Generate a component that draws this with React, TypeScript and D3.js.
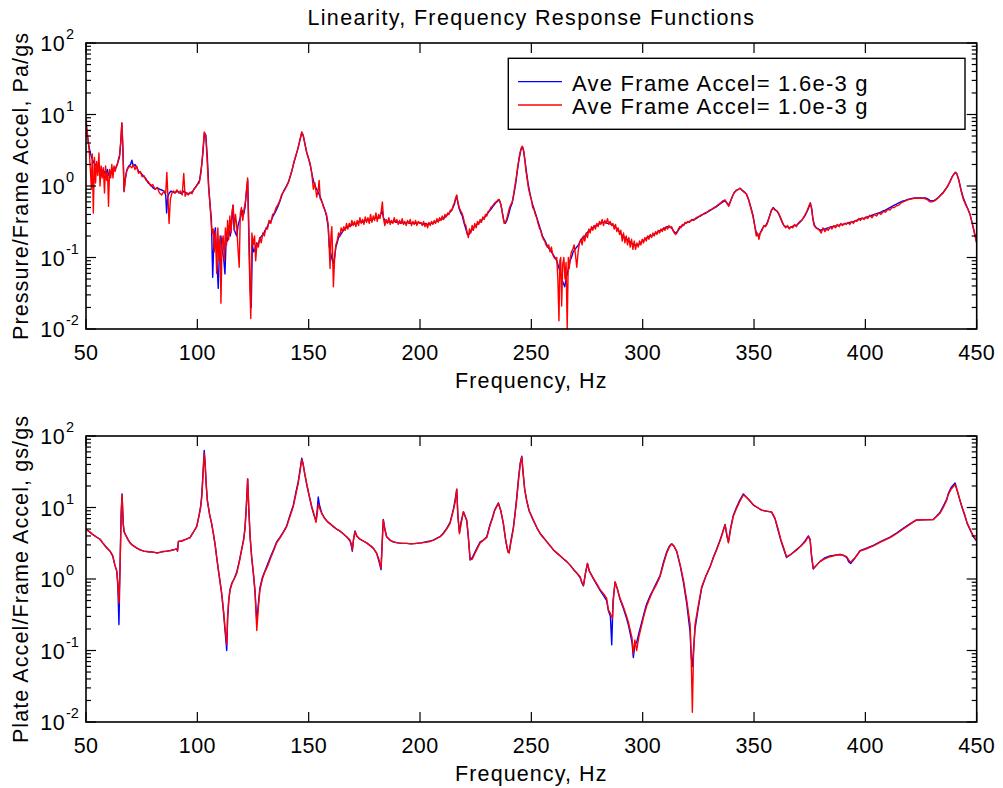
import React from 'react';
import * as d3 from 'd3';

type Pt = [number, number];

const titleText = 'Linearity, Frequency Response Functions';
const xLabelText = 'Frequency, Hz';
const topYLabel = 'Pressure/Frame Accel, Pa/gs';
const bottomYLabel = 'Plate Accel/Frame Accel, gs/gs';
const legendLabels = ['Ave Frame Accel= 1.6e-3 g', 'Ave Frame Accel= 1.0e-3 g'];
const seriesColors = ['#0000ff', '#ff0000'];
const xTicks = [50, 100, 150, 200, 250, 300, 350, 400, 450];
const yExponents = [-2, -1, 0, 1, 2];

const topBlue: Pt[] = [[50,6.7],[50.6,5.0],[51.2,3.8],[51.8,3.0],[52.4,2.6],[53,2.3],[53.6,2.1],[54.2,2.0],[54.8,1.8],[55.4,1.6],[56,1.9],[56.6,1.5],[57.2,1.7],[57.8,1.4],[58.4,1.6],[59,1.5],[59.6,1.7],[60.2,1.4],[60.8,1.6],[61.4,1.5],[62,1.7],[62.6,1.8],[63.2,1.75],[63.8,1.9],[64.4,2.2],[65,2.5],[65.6,4.0],[66.1,7.5],[66.6,3.2],[67.1,0.85],[67.7,1.3],[68.4,1.7],[69.2,1.9],[70,2.0],[70.6,2.3],[71.2,1.9],[72,2.0],[72.8,1.8],[73.6,1.6],[74.4,1.55],[75.2,1.45],[76,1.35],[77,1.25],[78,1.1],[79,1.05],[80,0.95],[81,0.9],[82,0.95],[83,0.9],[84,0.88],[85,0.85],[85.8,0.75],[86.2,0.42],[86.7,0.7],[87.4,0.8],[88.2,0.85],[89,0.82],[90,0.8],[91,0.85],[92,0.8],[93,0.78],[94,0.85],[95,0.8],[96,0.78],[97,0.8],[98,0.85],[99,0.95],[100,1.05],[101,1.2],[102,2.0],[102.6,3.2],[103.2,5.5],[103.8,5.2],[104.5,2.5],[105.1,1.0],[105.7,0.55],[106.3,0.35],[106.9,0.053],[107.5,0.2],[108.1,0.26],[108.7,0.1],[109.4,0.037],[110,0.15],[110.6,0.2],[111.2,0.12],[111.8,0.1],[112.4,0.059],[113,0.2],[113.6,0.17],[114.2,0.24],[114.8,0.2],[115.4,0.3],[116,0.54],[116.5,0.25],[117.1,0.22],[117.7,0.2],[118.3,0.28],[118.9,0.33],[119.5,0.38],[120.2,0.45],[120.8,0.4],[121.4,0.5],[122,0.8],[122.6,1.2],[123.2,0.2],[123.7,0.04],[124.2,0.02],[124.7,0.15],[125.3,0.12],[125.9,0.13],[126.6,0.16],[127.3,0.15],[128,0.18],[128.8,0.2],[129.6,0.21],[130.4,0.24],[131.2,0.26],[132,0.3],[133,0.32],[134,0.38],[135,0.43],[136,0.5],[137,0.6],[138,0.75],[139,0.88],[140,1.0],[141,1.15],[142,1.45],[143,1.9],[144,2.5],[145,3.2],[146,4.3],[146.9,5.6],[147.6,5.0],[148.4,3.8],[149.2,2.9],[150,2.4],[150.8,1.9],[151.6,1.4],[152.4,1.1],[153.2,0.95],[154,0.85],[154.8,0.75],[155.6,0.65],[156.4,0.55],[157.2,0.47],[158,0.38],[158.8,0.26],[159.3,0.14],[159.8,0.12],[160.3,0.1],[161,0.083],[161.6,0.1],[162.2,0.14],[162.8,0.16],[163.4,0.19],[164,0.2],[164.8,0.22],[165.6,0.24],[166.4,0.25],[167.2,0.27],[168,0.27],[169,0.28],[170,0.3],[171,0.29],[172,0.31],[173,0.32],[174,0.31],[175,0.33],[176,0.33],[177,0.34],[178,0.33],[179,0.35],[180,0.36],[181,0.35],[182,0.38],[183,0.45],[183.6,0.36],[184.4,0.32],[185.4,0.31],[186.4,0.32],[187.4,0.31],[188.4,0.32],[189.4,0.31],[190.4,0.31],[191.4,0.3],[192.4,0.31],[193.4,0.3],[194.4,0.31],[195.4,0.3],[196.4,0.3],[197.4,0.3],[198.4,0.3],[199.4,0.31],[200.4,0.3],[201.4,0.29],[202.4,0.3],[203.4,0.29],[204.4,0.3],[205.4,0.3],[206.4,0.31],[207.4,0.32],[208.4,0.33],[209.4,0.34],[210.4,0.35],[211.4,0.37],[212.4,0.4],[213.4,0.43],[214.4,0.47],[215.4,0.55],[216,0.65],[216.5,0.72],[217,0.58],[217.6,0.48],[218.3,0.42],[219,0.38],[219.8,0.3],[220.6,0.25],[221.3,0.21],[222,0.21],[222.8,0.23],[223.6,0.25],[224.4,0.27],[225.2,0.28],[226,0.3],[226.8,0.31],[227.6,0.33],[228.4,0.35],[229.2,0.37],[230,0.4],[231,0.44],[232,0.48],[233,0.53],[234,0.58],[235,0.62],[235.6,0.64],[236.3,0.55],[237,0.42],[237.7,0.32],[238.3,0.3],[239,0.33],[239.8,0.4],[240.6,0.5],[241.4,0.58],[242.2,0.78],[243,1.1],[243.8,1.7],[244.6,2.5],[245.4,3.3],[246,3.5],[246.6,3.0],[247.2,2.2],[247.9,1.5],[248.6,1.05],[249.4,0.78],[250.2,0.6],[251,0.5],[251.8,0.42],[252.6,0.35],[253.4,0.29],[254.2,0.24],[255,0.2],[255.8,0.18],[256.6,0.16],[257.4,0.14],[258.2,0.13],[259,0.12],[259.8,0.11],[260.6,0.1],[261.4,0.09],[262.2,0.075],[263,0.06],[263.6,0.05],[264.2,0.045],[265,0.039],[265.6,0.05],[266.2,0.06],[266.8,0.075],[267.4,0.09],[268,0.1],[268.8,0.12],[269.6,0.13],[270.4,0.14],[271.2,0.15],[272,0.17],[273,0.19],[274,0.2],[275,0.22],[276,0.24],[277,0.25],[278,0.27],[279,0.28],[280,0.29],[281,0.3],[282,0.31],[283,0.31],[284,0.3],[285,0.3],[286,0.29],[287,0.28],[288,0.26],[289,0.24],[290,0.22],[291,0.2],[292,0.19],[293,0.18],[294,0.17],[295,0.16],[296,0.15],[297,0.15],[298,0.15],[299,0.16],[300,0.17],[301,0.18],[302,0.19],[303,0.2],[304,0.2],[305,0.21],[306,0.22],[307,0.23],[308,0.24],[309,0.25],[310,0.26],[311,0.27],[312,0.27],[313,0.26],[314,0.23],[315,0.22],[316,0.24],[317,0.27],[318,0.28],[319,0.3],[320,0.31],[321,0.32],[322,0.33],[323,0.34],[324,0.35],[325,0.37],[326,0.38],[327,0.4],[328,0.41],[329,0.43],[330,0.45],[331,0.47],[332,0.49],[333,0.51],[334,0.54],[335,0.57],[336,0.6],[337,0.62],[338,0.57],[338.7,0.54],[339.5,0.62],[340.3,0.72],[341.2,0.82],[342,0.87],[343,0.9],[343.7,0.93],[344.6,0.88],[345.6,0.83],[346.6,0.77],[347.6,0.64],[348.6,0.5],[349.6,0.38],[350.4,0.27],[351.2,0.21],[352,0.2],[352.8,0.22],[353.6,0.25],[354.4,0.27],[355.2,0.28],[356,0.31],[357,0.38],[357.8,0.46],[358.6,0.5],[359.4,0.47],[360.2,0.45],[361,0.41],[361.8,0.36],[362.6,0.31],[363.4,0.28],[364.2,0.27],[365,0.27],[366,0.26],[367,0.27],[368,0.28],[369,0.28],[370,0.3],[371,0.32],[372,0.35],[373,0.39],[374,0.45],[374.8,0.52],[375.3,0.58],[375.9,0.48],[376.5,0.34],[377.2,0.28],[378,0.26],[379,0.25],[380,0.24],[381,0.25],[382,0.25],[383,0.26],[384,0.26],[385,0.27],[386,0.27],[387,0.28],[388,0.28],[389,0.29],[390,0.29],[391,0.3],[392,0.3],[393,0.31],[394,0.31],[395,0.32],[396,0.33],[397,0.34],[398,0.35],[399,0.35],[400,0.36],[401,0.37],[402,0.38],[403,0.39],[404,0.4],[405,0.41],[406,0.42],[407,0.43],[408,0.45],[409,0.46],[410,0.48],[411,0.5],[412,0.52],[413,0.54],[414,0.56],[415,0.58],[416,0.6],[417,0.62],[418,0.63],[419,0.65],[420,0.66],[421,0.67],[422,0.68],[423,0.68],[424,0.68],[425,0.68],[426,0.68],[427,0.68],[428,0.66],[429,0.63],[430,0.62],[431,0.63],[432,0.66],[433,0.7],[434,0.76],[435,0.82],[436,0.9],[437,1.0],[438,1.15],[439,1.35],[440,1.5],[440.5,1.55],[441,1.5],[442,1.2],[443,0.88],[444,0.68],[445,0.57],[446,0.48],[447,0.4],[448,0.3],[449,0.22],[450,0.16]];

const topRed: Pt[] = [[50,8.9],[50.5,6.0],[51,4.2],[51.5,3.0],[52,1.6],[52.4,0.9],[52.8,2.8],[53.3,0.42],[53.8,2.5],[54.3,1.1],[54.8,2.2],[55.3,1.4],[55.8,2.9],[56.3,1.0],[56.8,1.9],[57.3,1.3],[57.8,1.8],[58.3,0.8],[58.8,1.9],[59.3,1.2],[59.7,1.5],[60.1,0.52],[60.6,1.7],[61.1,1.3],[61.6,2.0],[62.1,1.3],[62.6,1.9],[63.1,1.6],[63.6,1.9],[64.1,2.0],[64.6,2.4],[65.1,2.7],[65.6,4.2],[66.1,7.7],[66.6,3.0],[67.1,0.83],[67.6,1.2],[68.2,1.6],[69,1.8],[69.8,1.9],[70.6,1.8],[71.3,2.0],[72,1.7],[72.8,1.9],[73.6,1.5],[74.4,1.6],[75.2,1.35],[76,1.4],[77,1.2],[78,1.15],[79,1.0],[80,1.05],[81,0.9],[82,0.95],[83,0.8],[84,0.75],[85,0.85],[85.8,0.8],[86.3,1.55],[86.8,0.7],[87.3,0.3],[87.9,0.65],[88.6,0.8],[89.3,0.85],[90,0.8],[90.8,0.88],[91.6,0.8],[92.4,0.85],[93.2,0.75],[93.9,1.5],[94.5,0.72],[95.2,0.8],[96,0.75],[96.8,0.82],[97.6,0.78],[98.4,0.9],[99.2,0.95],[100,1.05],[100.8,1.1],[101.6,1.5],[102.4,2.8],[103.1,5.7],[103.8,5.0],[104.5,2.0],[105.1,0.9],[105.6,0.6],[106.1,0.35],[106.6,0.22],[107.1,0.25],[107.6,0.12],[108.1,0.23],[108.7,0.06],[109.2,0.26],[109.7,0.09],[110.2,0.2],[110.6,0.023],[111.1,0.16],[111.6,0.2],[112.1,0.09],[112.6,0.26],[113.1,0.15],[113.6,0.33],[114.1,0.18],[114.6,0.38],[115.1,0.22],[115.6,0.45],[116.1,0.54],[116.6,0.24],[117.1,0.4],[117.6,0.3],[118.2,0.14],[118.8,0.073],[119.3,0.42],[119.8,0.5],[120.4,0.33],[121,0.48],[121.6,0.6],[122.1,0.9],[122.6,1.3],[123.1,0.2],[123.5,0.05],[124,0.014],[124.5,0.22],[125.1,0.15],[125.7,0.2],[126.2,0.09],[126.8,0.16],[127.4,0.14],[128,0.19],[128.7,0.16],[129.4,0.22],[130.1,0.2],[130.8,0.26],[131.5,0.25],[132.2,0.33],[133,0.3],[133.8,0.4],[134.6,0.42],[135.4,0.5],[136.2,0.55],[137,0.62],[137.8,0.75],[138.6,0.82],[139.4,0.9],[140.2,1.0],[141,1.15],[141.8,1.4],[142.6,1.7],[143.4,2.2],[144.2,2.6],[145,3.2],[145.8,4.0],[146.5,5.0],[146.9,5.7],[147.5,5.2],[148.2,4.0],[149,3.0],[149.8,2.5],[150.6,2.1],[151.4,1.5],[152.1,0.9],[152.8,1.1],[153.6,0.7],[154.3,0.9],[154.7,1.2],[155.2,0.66],[156,0.6],[156.7,0.5],[157.3,0.46],[158,0.4],[158.7,0.3],[159.3,0.12],[159.6,0.07],[160,0.2],[160.4,0.27],[160.8,0.1],[161.1,0.039],[161.6,0.09],[162.2,0.15],[162.8,0.17],[163.4,0.22],[164,0.2],[164.6,0.26],[165.2,0.23],[165.8,0.27],[166.4,0.24],[167,0.3],[167.6,0.25],[168.2,0.3],[168.8,0.27],[169.4,0.33],[170,0.28],[170.6,0.32],[171.2,0.27],[171.8,0.33],[172.4,0.28],[173,0.36],[173.6,0.3],[174.2,0.34],[174.8,0.29],[175.4,0.37],[176,0.31],[176.6,0.36],[177.2,0.3],[177.8,0.4],[178.4,0.31],[179,0.38],[179.6,0.33],[180.2,0.42],[180.8,0.32],[181.4,0.4],[182,0.35],[182.6,0.45],[183.1,0.6],[183.6,0.35],[184.2,0.28],[184.8,0.34],[185.4,0.3],[186,0.36],[186.6,0.29],[187.2,0.33],[187.8,0.3],[188.4,0.36],[189,0.31],[189.6,0.34],[190.2,0.29],[190.8,0.33],[191.4,0.3],[192,0.35],[192.6,0.29],[193.2,0.32],[193.8,0.28],[194.4,0.33],[195,0.3],[195.6,0.34],[196.2,0.28],[196.8,0.32],[197.4,0.29],[198,0.33],[198.6,0.28],[199.2,0.32],[199.8,0.3],[200.4,0.31],[201,0.28],[201.6,0.32],[202.2,0.27],[202.8,0.3],[203.4,0.26],[204,0.31],[204.6,0.28],[205.2,0.32],[205.8,0.29],[206.4,0.33],[207,0.3],[207.6,0.35],[208.2,0.31],[208.8,0.36],[209.4,0.33],[210,0.38],[210.6,0.34],[211.2,0.4],[211.8,0.37],[212.4,0.42],[213,0.4],[213.6,0.46],[214.2,0.45],[214.8,0.52],[215.4,0.58],[216,0.68],[216.5,0.75],[217,0.6],[217.6,0.5],[218.2,0.45],[218.8,0.42],[219.4,0.37],[220,0.3],[220.6,0.28],[221.2,0.22],[221.7,0.19],[222.2,0.25],[222.8,0.22],[223.4,0.28],[224,0.24],[224.6,0.3],[225.2,0.26],[225.8,0.32],[226.4,0.29],[227,0.34],[227.6,0.31],[228.2,0.37],[228.8,0.34],[229.4,0.4],[230,0.38],[230.6,0.44],[231.2,0.45],[231.8,0.5],[232.4,0.52],[233,0.55],[233.6,0.58],[234.2,0.6],[234.8,0.63],[235.4,0.65],[236,0.6],[236.6,0.5],[237.2,0.38],[237.8,0.3],[238.4,0.31],[239,0.35],[239.6,0.42],[240.2,0.5],[240.8,0.55],[241.4,0.6],[242,0.75],[242.6,1.0],[243.2,1.3],[243.8,1.8],[244.4,2.4],[245,3.0],[245.6,3.5],[246,3.6],[246.5,3.2],[247,2.4],[247.6,1.6],[248.2,1.2],[248.8,0.9],[249.4,0.75],[250,0.65],[250.6,0.5],[251.2,0.47],[251.8,0.4],[252.4,0.36],[253,0.3],[253.6,0.26],[254.2,0.24],[254.8,0.2],[255.4,0.18],[256,0.17],[256.6,0.15],[257.2,0.14],[257.8,0.15],[258.4,0.12],[259,0.14],[259.6,0.11],[260.2,0.1],[260.8,0.095],[261.4,0.1],[261.9,0.05],[262.4,0.013],[262.8,0.09],[263.2,0.1],[263.6,0.021],[264.1,0.08],[264.6,0.1],[265.1,0.05],[265.6,0.085],[266.1,0.01],[266.6,0.1],[267,0.07],[267.5,0.1],[268,0.12],[268.6,0.13],[269.2,0.15],[269.8,0.11],[270.4,0.073],[271,0.12],[271.6,0.16],[272.2,0.18],[272.8,0.15],[273.4,0.2],[274,0.17],[274.6,0.22],[275.2,0.19],[275.8,0.25],[276.4,0.22],[277,0.27],[277.6,0.24],[278.2,0.28],[278.8,0.25],[279.4,0.3],[280,0.27],[280.6,0.32],[281.2,0.29],[281.8,0.34],[282.4,0.28],[283,0.33],[283.6,0.3],[284.2,0.35],[284.8,0.29],[285.4,0.32],[286,0.28],[286.6,0.3],[287.2,0.25],[287.8,0.29],[288.4,0.23],[289,0.26],[289.6,0.21],[290.2,0.24],[290.8,0.17],[291.4,0.22],[292,0.16],[292.6,0.2],[293.2,0.15],[293.8,0.19],[294.4,0.14],[295,0.18],[295.6,0.13],[296.2,0.17],[296.8,0.13],[297.4,0.16],[298,0.14],[298.6,0.17],[299.2,0.15],[299.8,0.18],[300.4,0.16],[301,0.19],[301.6,0.17],[302.2,0.2],[302.8,0.18],[303.4,0.21],[304,0.19],[304.6,0.22],[305.2,0.2],[305.8,0.23],[306.4,0.21],[307,0.24],[307.6,0.22],[308.2,0.25],[308.8,0.23],[309.4,0.26],[310,0.24],[310.6,0.27],[311.2,0.25],[311.8,0.28],[312.4,0.26],[313,0.27],[313.6,0.24],[314.2,0.22],[314.8,0.21],[315.4,0.22],[316,0.25],[316.6,0.27],[317.2,0.26],[317.8,0.29],[318.4,0.28],[319,0.31],[319.6,0.3],[320.2,0.32],[321,0.31],[322,0.34],[323,0.33],[324,0.36],[325,0.37],[326,0.39],[327,0.4],[328,0.42],[329,0.43],[330,0.46],[331,0.47],[332,0.5],[333,0.52],[334,0.55],[335,0.58],[336,0.62],[337,0.64],[338,0.56],[338.6,0.52],[339.4,0.6],[340.2,0.7],[341,0.8],[342,0.86],[343,0.9],[343.7,0.93],[344.5,0.88],[345.5,0.82],[346.5,0.78],[347.5,0.65],[348.5,0.5],[349.5,0.38],[350.3,0.28],[351,0.2],[351.6,0.22],[352.2,0.18],[352.8,0.22],[353.6,0.24],[354.4,0.28],[355.2,0.27],[356,0.3],[357,0.38],[357.8,0.45],[358.6,0.49],[359.4,0.46],[360.2,0.45],[361,0.42],[361.8,0.37],[362.6,0.32],[363.4,0.28],[364.2,0.26],[365,0.28],[365.8,0.25],[366.6,0.27],[367.4,0.26],[368.2,0.29],[369,0.27],[369.8,0.3],[370.6,0.32],[371.4,0.33],[372.2,0.36],[373,0.4],[373.8,0.45],[374.6,0.52],[375.2,0.58],[375.8,0.5],[376.4,0.35],[377,0.28],[377.8,0.26],[378.6,0.25],[379.4,0.24],[380.2,0.22],[381,0.26],[381.8,0.23],[382.6,0.25],[383.4,0.24],[384.2,0.27],[385,0.25],[385.8,0.28],[386.6,0.26],[387.4,0.29],[388.2,0.27],[389,0.3],[389.8,0.28],[390.6,0.3],[391.4,0.29],[392.2,0.31],[393,0.29],[393.8,0.32],[394.6,0.3],[395.4,0.33],[396.2,0.32],[397,0.35],[397.8,0.33],[398.6,0.36],[399.4,0.34],[400.2,0.37],[401,0.35],[402,0.39],[403,0.36],[404,0.4],[405,0.38],[406,0.42],[407,0.4],[408,0.44],[409,0.43],[410,0.47],[411,0.46],[412,0.5],[413,0.5],[414,0.53],[415,0.54],[416,0.58],[417,0.6],[418,0.62],[419,0.64],[420,0.65],[421,0.66],[422,0.67],[423,0.68],[424,0.67],[425,0.68],[426,0.67],[427,0.66],[428,0.64],[429,0.6],[430,0.6],[431,0.62],[432,0.65],[433,0.7],[434,0.75],[435,0.8],[436,0.9],[437,1.0],[438,1.15],[439,1.35],[440,1.5],[440.5,1.55],[441,1.5],[442,1.2],[443,0.85],[444,0.65],[445,0.55],[446,0.48],[447,0.4],[448,0.3],[449,0.22],[450,0.16]];

const bottomBlue: Pt[] = [[50,4.95],[51.5,4.6],[53,4.2],[54.5,3.9],[56.3,3.6],[57.5,3.2],[59,2.8],[60.8,2.45],[62,2.1],[63,1.55],[63.8,1.3],[64.3,0.8],[64.8,0.23],[65.3,1.6],[65.8,8.5],[66.2,15.5],[66.7,6],[67.1,4.6],[68,4],[69,3.5],[69.8,3.2],[71,2.95],[72.5,2.75],[74.3,2.55],[76,2.45],[78,2.4],[80.2,2.38],[82,2.32],[84,2.4],[86.2,2.45],[88,2.5],[90,2.6],[90.7,2.65],[91.1,2.45],[91.5,3.35],[93,3.4],[95,3.6],[96.7,3.8],[98,4.4],[99.7,5.4],[100.7,7.5],[101.5,10.5],[102,15],[102.6,33],[103.1,63],[103.5,42],[104,21],[104.5,12.5],[105.5,8],[106.4,6],[107.2,4.3],[108,3.0],[108.7,2.0],[109.5,1.3],[110.2,0.92],[111,0.6],[111.8,0.33],[112.5,0.18],[113.2,0.1],[113.6,0.28],[114.1,0.5],[114.7,0.72],[115.5,0.88],[116.5,1.0],[117.7,1.25],[118.8,1.75],[119.9,2.6],[120.8,3.6],[121.4,5.2],[122,10.5],[122.6,25],[123.1,9.5],[123.7,3.8],[124.4,2.0],[125.2,1.15],[125.9,0.65],[126.7,0.25],[127.4,0.45],[128.1,0.75],[129.2,1.05],[130.4,1.3],[131.5,1.6],[133,2.1],[134.3,2.6],[135.6,3.3],[137,3.8],[138.5,4.5],[140.1,5.5],[141.6,7.8],[143.1,10.8],[144.2,16],[145.3,23],[146.2,35],[146.9,49],[147.5,41],[148.2,30],[149.1,21],[150.2,14.5],[151.4,10],[152.4,7.8],[153.3,6.5],[153.8,9],[154.3,14],[154.8,11],[155.8,8.5],[157,7.2],[158.5,6.3],[160,5.8],[161.1,5.4],[162.5,5.0],[164,4.7],[165.5,4.3],[167,3.9],[168.6,3.4],[169.3,2.8],[169.6,2.45],[170.1,3.5],[170.8,4.7],[171.6,4.0],[173,3.6],[174.5,3.4],[176,3.2],[177.5,2.95],[179,2.7],[180.5,2.3],[181.5,1.8],[182.5,1.35],[183,3.2],[183.5,6.8],[184.2,5],[185,3.9],[186.5,3.5],[188,3.3],[190,3.2],[192,3.15],[194,3.15],[196,3.1],[198.5,3.15],[200.5,3.2],[202.5,3.3],[204.5,3.4],[206,3.5],[207.5,3.7],[209,3.9],[210.5,4.4],[212,5.1],[213.5,6.2],[215,9.5],[215.8,13],[216.5,18],[217,7.5],[217.7,4.5],[218.5,6.5],[219.5,8.7],[220.3,7.5],[221,6.5],[221.7,3.8],[222.5,1.85],[223.5,2.0],[225,2.5],[227,3.3],[228.5,3.5],[230,3.9],[231.3,5.6],[232.5,7.2],[233.5,9.2],[235.2,11.6],[236.3,9],[237.4,6.0],[238.5,3.4],[239.5,2.4],[240,2.35],[240.8,3.4],[241.9,5.2],[242.7,8.5],[243.4,13.5],[244.3,27],[245,42],[245.7,52],[246.3,31],[247,18],[247.9,12.5],[249,9],[250.9,6.6],[252.5,5.2],[254,4.3],[255.4,3.8],[257,3.3],[258.5,2.9],[259.9,2.55],[261.5,2.3],[263,2.1],[264.5,1.9],[265.9,1.75],[267.5,1.55],[269,1.35],[270.5,1.2],[271.9,1.05],[272.7,0.88],[273.4,0.8],[274.3,1.2],[275.2,1.65],[276,1.3],[277.9,1.0],[279.5,0.82],[281,0.68],[282.5,0.58],[283.8,0.5],[284.6,0.36],[285.5,0.3],[286.1,0.12],[286.7,0.5],[287.6,0.9],[288.5,0.75],[289.8,0.52],[291.2,0.4],[292.8,0.28],[293.7,0.22],[294.6,0.16],[295.2,0.13],[295.8,0.08],[296.5,0.12],[297.3,0.13],[298.2,0.17],[299.6,0.25],[300.7,0.34],[301.8,0.45],[303.3,0.58],[304.8,0.72],[306.3,0.9],[307.8,1.12],[309.3,1.7],[310.8,2.4],[312,2.9],[313,3.1],[314,2.9],[315.3,2.4],[316.8,1.55],[318.3,0.9],[319.8,0.45],[321.3,0.18],[321.8,0.08],[322.3,0.06],[322.8,0.1],[323.5,0.2],[325,0.4],[326.5,0.75],[328.4,1.1],[330.3,1.5],[331.8,2.05],[333.2,2.6],[335,3.7],[337,5.8],[337.8,4.0],[338.5,3.3],[339.5,5.2],[340.7,7.8],[342,9.8],[343.5,12.5],[345.2,15.5],[346.5,14],[348,12.5],[349.7,10.8],[351.5,10],[353.4,9.2],[355.5,8.9],[357.9,8.6],[359.4,7.0],[360.8,4.8],[362,3.5],[363.2,2.7],[364.6,2.0],[366.5,2.2],[369.2,2.6],[371,2.9],[372.9,3.4],[374.4,4.0],[375.2,3.6],[375.8,2.1],[376.6,1.38],[378,1.55],[379.6,1.75],[381.5,1.95],[384.1,2.1],[386.5,2.15],[388.6,2.2],[390,2.15],[391.6,2.0],[392.5,1.75],[393.4,1.65],[394.3,1.78],[395.5,2.0],[397.6,2.5],[400.5,2.7],[403.6,2.95],[407,3.35],[411.1,3.85],[414,4.4],[417,5.1],[420,5.9],[423,6.7],[426,6.75],[430.5,6.8],[432,7.6],[433.5,8.5],[435,10.5],[436.5,13],[437.2,15.5],[438.5,19],[440.3,22],[441.3,17],[442.5,12.5],[443.5,9.8],[444.6,7.8],[445.7,6.0],[447,4.9],[448.5,3.9],[450,3.4]];

const bottomRed: Pt[] = [[50,4.95],[51.5,4.6],[53,4.2],[54.5,3.9],[56.3,3.6],[57.5,3.2],[59,2.8],[60.8,2.45],[62,2.1],[63,1.55],[63.8,1.3],[64.3,0.9],[64.8,0.46],[65.3,1.5],[65.8,8],[66.2,15],[66.7,6],[67.1,4.6],[68,4],[69,3.5],[69.8,3.2],[71,2.95],[72.5,2.75],[74.3,2.55],[76,2.45],[78,2.4],[80.2,2.38],[82,2.3],[84,2.4],[86.2,2.45],[88,2.5],[90,2.6],[90.7,2.65],[91.1,2.5],[91.5,3.35],[93,3.4],[95,3.6],[96.7,3.8],[98,4.4],[99.7,5.4],[100.7,7.5],[101.5,10],[102,14],[102.6,30],[103.1,57],[103.5,40],[104,20],[104.5,12.5],[105.5,8],[106.4,6],[107.2,4.3],[108,3.0],[108.7,2.0],[109.5,1.3],[110.2,0.92],[111,0.6],[111.8,0.35],[112.5,0.2],[113.2,0.12],[113.6,0.3],[114.1,0.5],[114.7,0.7],[115.5,0.85],[116.5,1.0],[117.7,1.2],[118.8,1.7],[119.9,2.55],[120.8,3.5],[121.4,5],[122,10],[122.6,25],[123.1,10],[123.7,4],[124.4,2.05],[125.2,1.2],[125.9,0.7],[126.7,0.19],[127.4,0.4],[128.1,0.7],[129.2,1.0],[130.4,1.27],[131.5,1.5],[133,2.0],[134.3,2.5],[135.6,3.2],[137,3.7],[138.5,4.4],[140.1,5.4],[141.6,7.5],[143.1,10.3],[144.2,15],[145.3,21.8],[146.2,33],[146.9,47],[147.5,40],[148.2,30],[149.1,21.8],[150.2,15],[151.4,10.3],[152.4,8],[153.3,6.2],[153.8,8],[154.3,11],[154.8,10],[155.8,8.3],[157,7.2],[158.5,6.3],[160,5.8],[161.1,5.4],[162.5,5.0],[164,4.7],[165.5,4.3],[167,3.9],[168.6,3.5],[169.3,3.0],[169.6,2.55],[170.1,3.5],[170.8,4.6],[171.6,4.0],[173,3.6],[174.5,3.4],[176,3.2],[177.5,2.95],[179,2.7],[180.5,2.3],[181.5,1.9],[182.5,1.41],[183,3],[183.5,6.7],[184.2,5],[185,3.9],[186.5,3.5],[188,3.3],[190,3.2],[192,3.15],[194,3.15],[196,3.1],[198.5,3.15],[200.5,3.2],[202.5,3.25],[204.5,3.35],[206,3.5],[207.5,3.7],[209,3.9],[210.5,4.3],[212,5],[213.5,6],[215,9.2],[215.8,12],[216.5,18],[217,8],[217.7,4.3],[218.5,6],[219.5,8.7],[220.3,7.5],[221,6.7],[221.7,4],[222.5,1.85],[223.5,1.9],[225,2.4],[227,3.2],[228.5,3.5],[230,3.8],[231.3,5.4],[232.5,7],[233.5,9],[235.2,11.4],[236.3,9],[237.4,6.1],[238.5,3.5],[239.5,2.4],[240,2.3],[240.8,3.2],[241.9,5],[242.7,8],[243.4,12.7],[244.3,25],[245,40],[245.7,51],[246.3,30],[247,18],[247.9,12.7],[249,9],[250.9,6.7],[252.5,5.2],[254,4.3],[255.4,3.8],[257,3.3],[258.5,2.9],[259.9,2.55],[261.5,2.3],[263,2.1],[264.5,1.9],[265.9,1.75],[267.5,1.55],[269,1.35],[270.5,1.2],[271.9,1.08],[272.7,0.9],[273.4,0.82],[274.3,1.2],[275.2,1.65],[276,1.3],[277.9,1.02],[279.5,0.85],[281,0.7],[282.5,0.62],[283.8,0.54],[284.6,0.37],[285.5,0.33],[286.4,0.28],[287,0.6],[287.6,0.92],[288.5,0.75],[289.8,0.54],[291.2,0.42],[292.8,0.3],[293.7,0.24],[294.6,0.18],[295.2,0.15],[295.8,0.09],[296.5,0.14],[297.3,0.1],[298.2,0.15],[299.6,0.23],[300.7,0.32],[301.8,0.42],[303.3,0.55],[304.8,0.7],[306.3,0.85],[307.8,1.08],[309.3,1.6],[310.8,2.3],[312,2.8],[313,3.1],[314,2.9],[315.3,2.45],[316.8,1.6],[318.3,0.97],[319.8,0.5],[321.3,0.23],[321.8,0.08],[322.3,0.0137],[322.8,0.08],[323.5,0.23],[325,0.43],[326.5,0.78],[328.4,1.1],[330.3,1.49],[331.8,2],[333.2,2.55],[335,3.6],[337,5.7],[337.8,4.2],[338.5,3.2],[339.5,5],[340.7,7.5],[342,9.5],[343.5,12],[345.2,15],[346.5,14],[348,12.5],[349.7,10.9],[351.5,10],[353.4,9.2],[355.5,8.9],[357.9,8.7],[359.4,7.1],[360.8,5],[362,3.6],[363.2,2.8],[364.6,2.05],[366.5,2.2],[369.2,2.55],[371,2.9],[372.9,3.3],[374.4,3.9],[375.2,3.5],[375.8,2.2],[376.6,1.41],[378,1.55],[379.6,1.75],[381.5,1.9],[384.1,2.05],[386.5,2.15],[388.6,2.2],[390,2.15],[391.6,2.05],[392.5,1.85],[393.4,1.71],[394.3,1.85],[395.5,2.0],[397.6,2.45],[400.5,2.65],[403.6,2.9],[407,3.3],[411.1,3.8],[414,4.3],[417,5],[420,5.8],[423,6.7],[426,6.75],[430.5,6.8],[432,7.5],[433.5,8.3],[435,10],[436.5,12.5],[437.2,15],[438.5,18],[440.3,21],[441.3,17],[442.5,12.7],[443.5,10],[444.6,8],[445.7,6.1],[447,5],[448.5,4],[450,3.5]];

const W = 1003;
const H = 788;
const PLOT_LEFT = 86;
const PLOT_RIGHT = 976.7;
const PLOT_H = 286;
const FONT = '"Liberation Sans", Arial, Helvetica, sans-serif';
const FS = 21.5;
const LS = 1.1;

type PanelProps = { top: number; blue: Pt[]; red: Pt[]; ylabel: string; id: string };

function Panel({ top, blue, red, ylabel, id }: PanelProps) {
  const x = d3.scaleLinear().domain([50, 450]).range([PLOT_LEFT, PLOT_RIGHT]);
  const y = d3.scaleLog().domain([0.01, 100]).range([top + PLOT_H, top]);
  const line = d3.line<Pt>().x((d) => x(d[0])).y((d) => y(d[1]));
  const bottom = top + PLOT_H;
  const minor: number[] = [];
  yExponents.slice(0, -1).forEach((e) => {
    for (let k = 2; k <= 9; k++) minor.push(k * Math.pow(10, e));
  });
  const majorLen = 10;
  const minorLen = 5;
  return (
    <g>
      <defs>
        <clipPath id={id}>
          <rect x={PLOT_LEFT} y={top} width={PLOT_RIGHT - PLOT_LEFT} height={PLOT_H} />
        </clipPath>
      </defs>
      <g clipPath={`url(#${id})`} fill="none" strokeWidth={1.4} strokeLinejoin="round">
        <path d={line(blue) || ''} stroke={seriesColors[0]} />
        <path d={line(red) || ''} stroke={seriesColors[1]} />
      </g>
      <g stroke="#000" strokeWidth={1.2}>
        {xTicks.map((t) => (
          <g key={'xt' + t}>
            <line x1={x(t)} x2={x(t)} y1={bottom} y2={bottom - majorLen} />
            <line x1={x(t)} x2={x(t)} y1={top} y2={top + majorLen} />
          </g>
        ))}
        {yExponents.map((e) => {
          const yy = y(Math.pow(10, e));
          return (
            <g key={'ym' + e}>
              <line x1={PLOT_LEFT} x2={PLOT_LEFT + majorLen} y1={yy} y2={yy} />
              <line x1={PLOT_RIGHT} x2={PLOT_RIGHT - majorLen} y1={yy} y2={yy} />
            </g>
          );
        })}
        {minor.map((v, i) => {
          const yy = y(v);
          return (
            <g key={'yn' + i}>
              <line x1={PLOT_LEFT} x2={PLOT_LEFT + minorLen} y1={yy} y2={yy} />
              <line x1={PLOT_RIGHT} x2={PLOT_RIGHT - minorLen} y1={yy} y2={yy} />
            </g>
          );
        })}
      </g>
      <rect x={PLOT_LEFT} y={top} width={PLOT_RIGHT - PLOT_LEFT} height={PLOT_H} fill="none" stroke="#000" strokeWidth={1.6} />
      <g fontFamily={FONT} fill="#000">
        {xTicks.map((t) => (
          <text key={'xl' + t} x={x(t)} y={bottom + 30.5} fontSize={FS} textAnchor="middle" letterSpacing={0.4}>
            {t}
          </text>
        ))}
        {yExponents.map((e) => {
          const yy = y(Math.pow(10, e));
          return (
            <g key={'yl' + e}>
              <text x={65} y={yy + 8} fontSize={FS} textAnchor="end" letterSpacing={0.4}>10</text>
              <text x={66} y={yy - 4} fontSize={14.5} textAnchor="start">{String(e)}</text>
            </g>
          );
        })}
        <text x={(PLOT_LEFT + PLOT_RIGHT) / 2} y={bottom + 59} fontSize={FS} textAnchor="middle" letterSpacing={LS}>
          {xLabelText}
        </text>
        <text transform={`translate(28,${top + PLOT_H / 2}) rotate(-90)`} fontSize={FS} textAnchor="middle" letterSpacing={LS}>
          {ylabel}
        </text>
      </g>
    </g>
  );
}

export default function App() {
  const lx0 = 508.3, ly0 = 58.3, lx1 = 965, ly1 = 129.3;
  const legendRows = [81.7, 105];
  return (
    <svg width={W} height={H} style={{ position: 'absolute', left: 0, top: 0, background: '#fff' }}>
      <rect x={0} y={0} width={W} height={H} fill="#fff" />
      <text x={(PLOT_LEFT + PLOT_RIGHT) / 2} y={25} fontFamily={FONT} fontSize={FS} textAnchor="middle" letterSpacing={1.35}>
        {titleText}
      </text>
      <Panel top={43} blue={topBlue} red={topRed} ylabel={topYLabel} id="clipTop" />
      <Panel top={436} blue={bottomBlue} red={bottomRed} ylabel={bottomYLabel} id="clipBottom" />
      <g>
        <rect x={lx0} y={ly0} width={lx1 - lx0} height={ly1 - ly0} fill="#fff" stroke="#000" strokeWidth={1.4} />
        {legendLabels.map((lab, i) => (
          <g key={lab}>
            <line x1={518} x2={562} y1={legendRows[i]} y2={legendRows[i]} stroke={seriesColors[i]} strokeWidth={1.3} />
            <text x={572} y={legendRows[i] + 9} fontFamily={FONT} fontSize={FS + 0.5} letterSpacing={1.25}>
              {lab}
            </text>
          </g>
        ))}
      </g>
    </svg>
  );
}
